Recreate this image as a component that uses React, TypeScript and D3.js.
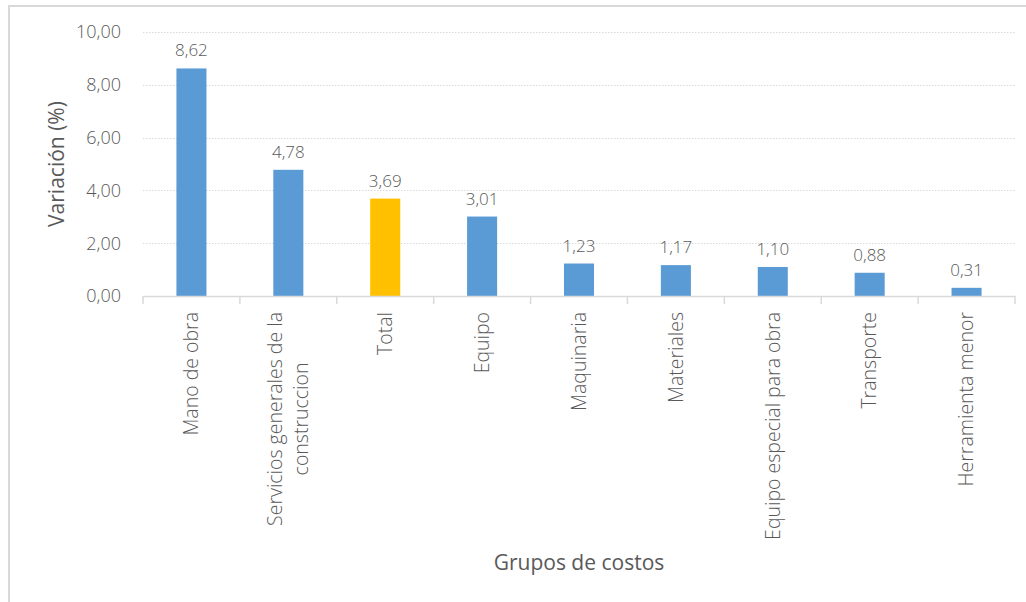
import React, { useEffect, useRef } from "react";
import * as d3 from "d3";

const categories: string[][] = [
  ["Mano de obra"],
  ["Servicios generales de la", "construccion"],
  ["Total"],
  ["Equipo"],
  ["Maquinaria"],
  ["Materiales"],
  ["Equipo especial para obra"],
  ["Transporte"],
  ["Herramienta menor"],
];
const values: number[] = [8.62, 4.78, 3.69, 3.01, 1.23, 1.17, 1.1, 0.88, 0.31];
const highlight: boolean[] = [false, false, true, false, false, false, false, false, false];
const yTicks: number[] = [0, 2, 4, 6, 8, 10];

const W = 1026;
const H = 602;
const FONT = "'Open Sans', 'Segoe UI', sans-serif";
const GREY = "#595959";

const fmt = (v: number) => d3.format(".2f")(v).replace(".", ",");

export default function App() {
  const ref = useRef<SVGSVGElement | null>(null);

  useEffect(() => {
    const svg = d3.select(ref.current);
    svg.selectAll("*").remove();

    const left = 143,
      right = 1015,
      top = 32,
      bottom = 296;

    const keys = categories.map((c) => c.join(" "));
    const x = d3
      .scaleBand<string>()
      .domain(keys)
      .range([left, right])
      .paddingInner(0.69)
      .paddingOuter(0.345);
    const step = (right - left) / keys.length;
    const y = d3.scaleLinear().domain([0, 10]).range([bottom, top]);

    // border
    svg
      .append("rect")
      .attr("x", 9)
      .attr("y", 6)
      .attr("width", W + 20)
      .attr("height", H + 20)
      .attr("fill", "white")
      .attr("stroke", "#D9D9D9")
      .attr("stroke-width", 2);

    // gridlines
    svg
      .append("g")
      .selectAll("line")
      .data(yTicks.filter((t) => t > 0))
      .join("line")
      .attr("x1", left)
      .attr("x2", right)
      .attr("y1", (d) => Math.round(y(d)) + 0.5)
      .attr("y2", (d) => Math.round(y(d)) + 0.5)
      .attr("stroke", "#D9D9D9")
      .attr("stroke-width", 1)
      .attr("stroke-dasharray", "1.5,1.5");

    // y tick labels
    svg
      .append("g")
      .selectAll("text")
      .data(yTicks)
      .join("text")
      .attr("x", 121)
      .attr("y", (d) => y(d))
      .attr("dy", "0.35em")
      .attr("text-anchor", "end")
      .attr("font-family", FONT)
      .attr("font-weight", 300)
      .attr("font-size", 18)
      .attr("fill", GREY)
      .text((d) => fmt(d));

    // bars
    svg
      .append("g")
      .selectAll("rect")
      .data(values)
      .join("rect")
      .attr("x", (_, i) => x(keys[i])!)
      .attr("width", x.bandwidth())
      .attr("y", (d) => y(d))
      .attr("height", (d) => y(0) - y(d))
      .attr("fill", (_, i) => (highlight[i] ? "#FFC000" : "#5B9BD5"));

    // data labels
    svg
      .append("g")
      .selectAll("text")
      .data(values)
      .join("text")
      .attr("x", (_, i) => x(keys[i])! + x.bandwidth() / 2)
      .attr("y", (d) => y(d) - 12)
      .attr("text-anchor", "middle")
      .attr("font-family", FONT)
      .attr("font-weight", 300)
      .attr("font-size", 17)
      .attr("fill", GREY)
      .text((d) => fmt(d));

    // x axis line and ticks
    const ax = svg.append("g").attr("stroke", "#D9D9D9").attr("stroke-width", 1.5);
    ax.append("line")
      .attr("x1", left)
      .attr("x2", right)
      .attr("y1", bottom + 0.5)
      .attr("y2", bottom + 0.5);
    ax.selectAll("line.tick")
      .data(d3.range(keys.length + 1))
      .join("line")
      .attr("class", "tick")
      .attr("x1", (i) => left + i * step)
      .attr("x2", (i) => left + i * step)
      .attr("y1", bottom)
      .attr("y2", bottom + 8);

    // category labels
    const labelTop = 312;
    const lineGap = 26;
    categories.forEach((lines, i) => {
      const cx = x(keys[i])! + x.bandwidth() / 2;
      const g = svg.append("g");
      const texts = lines.map((ln) =>
        g
          .append("text")
          .attr("font-family", FONT)
          .attr("font-weight", 300)
          .attr("font-size", 19.5)
          .attr("fill", GREY)
          .attr("dy", "0.35em")
          .text(ln)
      );
      if (lines.length === 1) {
        texts[0]
          .attr("text-anchor", "end")
          .attr("transform", `translate(${cx},${labelTop}) rotate(-90)`);
      } else {
        const maxLen = d3.max(texts, (t) => (t.node() as SVGTextElement).getComputedTextLength()) || 0;
        const mid = labelTop + maxLen / 2;
        texts.forEach((t, j) => {
          const off = (j - (lines.length - 1) / 2) * lineGap;
          t.attr("text-anchor", "middle").attr(
            "transform",
            `translate(${cx + off},${mid}) rotate(-90)`
          );
        });
      }
    });

    // axis titles
    svg
      .append("text")
      .attr("transform", `translate(57,${(top + bottom) / 2}) rotate(-90)`)
      .attr("dy", "0.35em")
      .attr("text-anchor", "middle")
      .attr("font-family", FONT)
      .attr("font-size", 21)
      .attr("fill", GREY)
      .text("Variación (%)");

    svg
      .append("text")
      .attr("x", (left + right) / 2)
      .attr("y", 563)
      .attr("dy", "0.35em")
      .attr("text-anchor", "middle")
      .attr("font-family", FONT)
      .attr("font-size", 21)
      .attr("fill", GREY)
      .text("Grupos de costos");
  }, []);

  return (
    <svg
      ref={ref}
      width={W}
      height={H}
      style={{ position: "fixed", left: 0, top: 0, display: "block", background: "white" }}
    />
  );
}
